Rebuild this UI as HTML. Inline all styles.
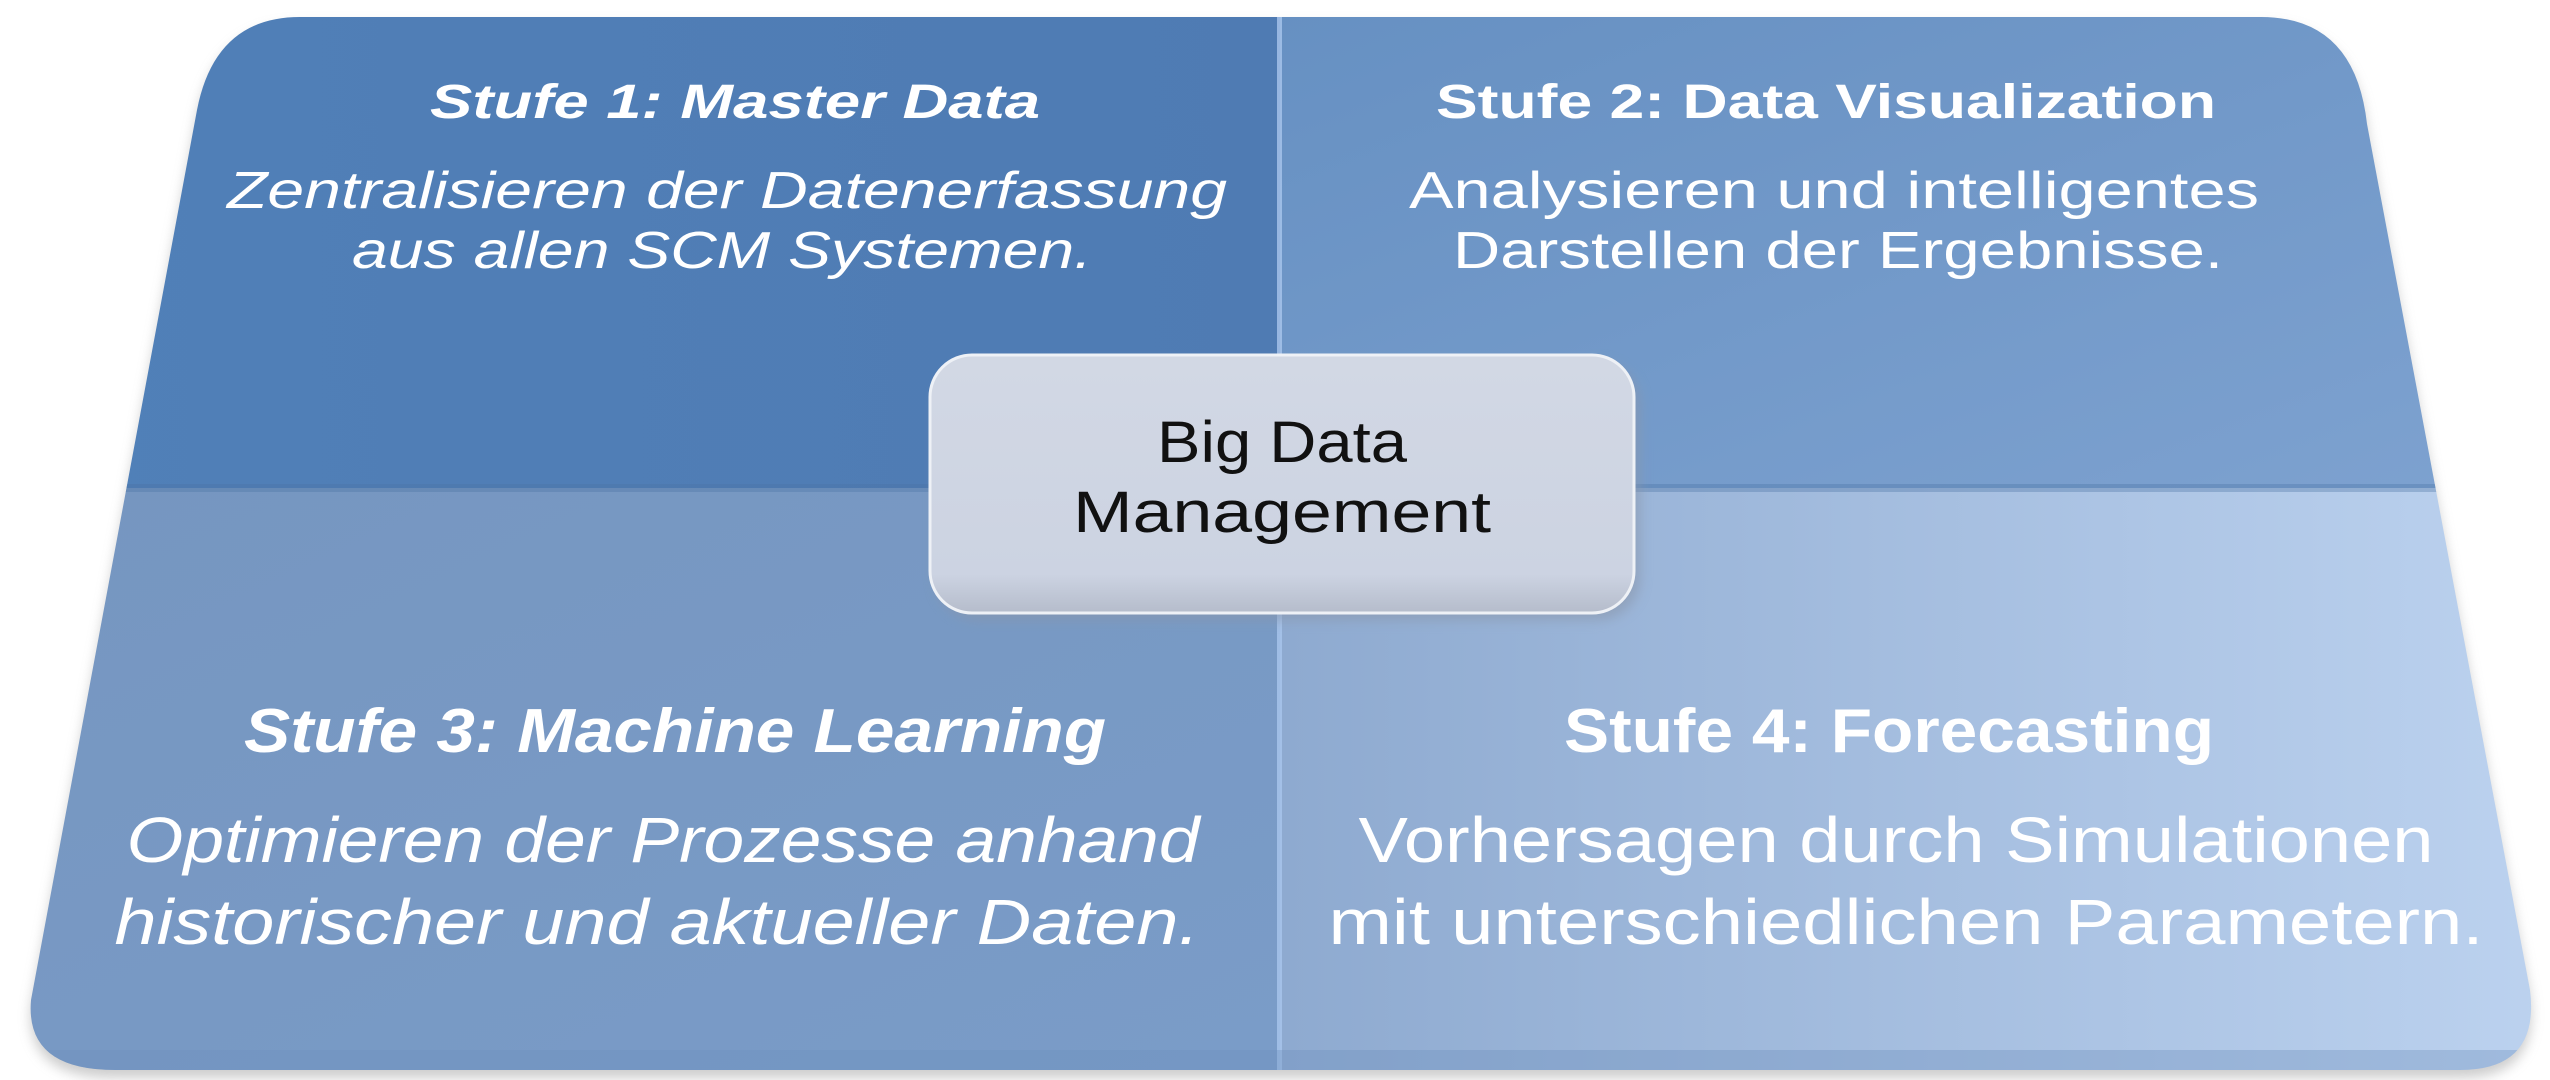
<!DOCTYPE html>
<html><head><meta charset="utf-8"><style>
html,body{margin:0;padding:0;background:#fff;width:2550px;height:1080px;overflow:hidden}
svg{display:block}
text{font-family:"Liberation Sans",sans-serif;fill:#fff}
</style></head><body>
<svg width="2550" height="1080" viewBox="0 0 2550 1080">
<defs>
<clipPath id="cp"><path d="M300 17 L2261 17 Q2355 17 2367 124 L2530 990 Q2540 1070 2460 1070 L115 1070 Q25 1070 31 1000 L197 110 Q215 17 300 17 Z"/></clipPath>
<linearGradient id="g1" x1="0" y1="0" x2="1" y2="0"><stop offset="0" stop-color="#5080b8"/><stop offset="1" stop-color="#4f7bb3"/></linearGradient>
<linearGradient id="g2" x1="0" y1="0" x2="1" y2="1"><stop offset="0" stop-color="#6690c2"/><stop offset="1" stop-color="#7ea2d0"/></linearGradient>
<linearGradient id="g3" x1="0" y1="0" x2="1" y2="1"><stop offset="0" stop-color="#7696c0"/><stop offset="1" stop-color="#7a9cc8"/></linearGradient>
<linearGradient id="g4" x1="0" y1="0" x2="1" y2="0"><stop offset="0" stop-color="#8eaad0"/><stop offset="1" stop-color="#bcd2ef"/></linearGradient>
<linearGradient id="gb" x1="0" y1="0" x2="0" y2="1"><stop offset="0" stop-color="#d2d8e4"/><stop offset="0.85" stop-color="#ccd3e2"/><stop offset="1" stop-color="#b5bccb"/></linearGradient>
<filter id="sh" x="-5%" y="-5%" width="110%" height="120%"><feGaussianBlur stdDeviation="6"/></filter>
</defs>
<path d="M300 25 L2261 25 Q2355 25 2367 132 L2530 998 Q2540 1078 2460 1078 L115 1078 Q25 1078 31 1008 L197 118 Q215 25 300 25 Z" fill="#b8b8b8" filter="url(#sh)" opacity="0.7"/>
<g clip-path="url(#cp)">
<rect x="0" y="0" width="1280" height="488" fill="url(#g1)"/>
<rect x="1280" y="0" width="1270" height="488" fill="url(#g2)"/>
<rect x="0" y="488" width="1280" height="600" fill="url(#g3)"/>
<rect x="1280" y="488" width="1270" height="600" fill="url(#g4)"/>
<rect x="0" y="484" width="2550" height="8" fill="#4a72a4" opacity="0.35"/>
<rect x="1277" y="0" width="5" height="1080" fill="#a9c6ec" opacity="0.8"/>
<rect x="0" y="1050" width="2550" height="25" fill="#6d8fbd" opacity="0.35"/>
</g>
<!-- center box -->
<rect x="936" y="362" width="704" height="258" rx="42" fill="#8a96aa" filter="url(#sh)" opacity="0.6"/>
<rect x="930" y="355" width="704" height="258" rx="42" fill="url(#gb)" stroke="#eef1f6" stroke-width="3"/>
<text x="1282" y="462" text-anchor="middle" font-size="58" style="fill:#111" textLength="250" lengthAdjust="spacingAndGlyphs">Big Data</text>
<text x="1282" y="532" text-anchor="middle" font-size="58" style="fill:#111" textLength="418" lengthAdjust="spacingAndGlyphs">Management</text>
<!-- Q1 -->
<text x="735" y="118" text-anchor="middle" font-size="48" font-weight="bold" font-style="italic" textLength="610" lengthAdjust="spacingAndGlyphs">Stufe 1: Master Data</text>
<text x="727" y="208" text-anchor="middle" font-size="52" font-style="italic" textLength="1000" lengthAdjust="spacingAndGlyphs">Zentralisieren der Datenerfassung</text>
<text x="722" y="268" text-anchor="middle" font-size="52" font-style="italic" textLength="740" lengthAdjust="spacingAndGlyphs">aus allen SCM Systemen.</text>
<!-- Q2 -->
<text x="1826" y="118" text-anchor="middle" font-size="48" font-weight="bold" textLength="780" lengthAdjust="spacingAndGlyphs">Stufe 2: Data Visualization</text>
<text x="1834" y="208" text-anchor="middle" font-size="52" textLength="850" lengthAdjust="spacingAndGlyphs">Analysieren und intelligentes</text>
<text x="1838" y="268" text-anchor="middle" font-size="52" textLength="770" lengthAdjust="spacingAndGlyphs">Darstellen der Ergebnisse.</text>
<!-- Q3 -->
<text x="675" y="752" text-anchor="middle" font-size="62" font-weight="bold" font-style="italic" textLength="862" lengthAdjust="spacingAndGlyphs">Stufe 3: Machine Learning</text>
<text x="663" y="862" text-anchor="middle" font-size="64" font-style="italic" textLength="1073" lengthAdjust="spacingAndGlyphs">Optimieren der Prozesse anhand</text>
<text x="657" y="944" text-anchor="middle" font-size="64" font-style="italic" textLength="1085" lengthAdjust="spacingAndGlyphs">historischer und aktueller Daten.</text>
<!-- Q4 -->
<text x="1889" y="752" text-anchor="middle" font-size="62" font-weight="bold" textLength="650" lengthAdjust="spacingAndGlyphs">Stufe 4: Forecasting</text>
<text x="1896" y="862" text-anchor="middle" font-size="64" textLength="1075" lengthAdjust="spacingAndGlyphs">Vorhersagen durch Simulationen</text>
<text x="1906" y="944" text-anchor="middle" font-size="64" textLength="1155" lengthAdjust="spacingAndGlyphs">mit unterschiedlichen Parametern.</text>
</svg>
</body></html>
